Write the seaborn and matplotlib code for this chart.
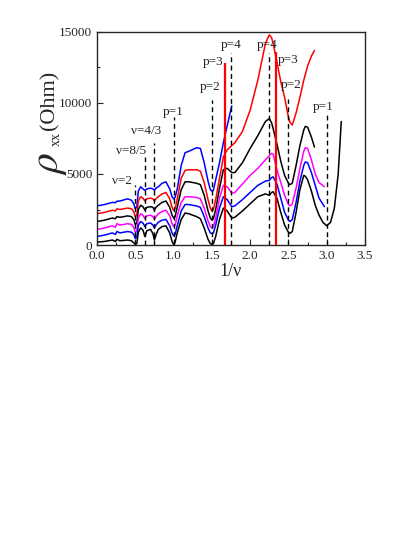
import matplotlib
matplotlib.use("Agg")
import matplotlib.pyplot as plt
import matplotlib.ticker as mticker
import seaborn as sns
import pandas as pd

# ---------------- data (values in Ohm) ----------------
x_left = [0, 0.1, 0.2, 0.24, 0.26, 0.3, 0.4, 0.45, 0.48, 0.5, 0.52, 0.54, 0.57, 0.6,
          0.625, 0.65, 0.7, 0.73, 0.75, 0.77, 0.8, 0.85, 0.9, 0.95, 0.98, 1.0, 1.02,
          1.05, 1.1, 1.15, 1.2, 1.3, 1.35, 1.4, 1.45, 1.48, 1.5, 1.52, 1.55, 1.6,
          1.65, 1.7, 1.76]
x_mid = [1.8, 1.9, 2.0, 2.1, 2.2, 2.25, 2.28, 2.3, 2.35, 2.4, 2.45, 2.5, 2.52, 2.55,
         2.6, 2.65, 2.7, 2.72, 2.75, 2.8]
x_end_short = [2.84]
x_end_med = [2.85, 2.9, 2.97]
x_end_long = [2.85, 2.9, 2.95, 3.0, 3.05, 3.1, 3.15, 3.19]

blue_top = [2750, 2850, 3000, 2980, 3080, 3100, 3250, 3150, 2900, 2550, 2700, 3800,
            4100, 3950, 3850, 3950, 4000, 3950, 3850, 4000, 4100, 4350, 4450, 3950,
            3400, 3250, 3350, 4000, 5600, 6500, 6600, 6850, 6800, 5800, 4500, 3900,
            3800, 3850, 4600, 5800, 7200, 8400, 9800]

red = [2200, 2300, 2450, 2400, 2550, 2500, 2600, 2550, 2350, 2000, 2100, 3100, 3400,
       3300, 3100, 3250, 3300, 3250, 3100, 3250, 3400, 3600, 3700, 3250, 2650, 2450,
       2550, 3300, 4700, 5250, 5300, 5300, 5200, 4400, 3200, 2600, 2400, 2500, 3200,
       4700, 6200, 6700, 7000,
       7200, 8000, 9500, 11600, 14200, 14800, 14600, 14200, 12900, 11500, 10400, 9000,
       8650, 8450, 9300, 10400, 11600, 12000, 12600, 13300,
       13700]

black_mid = [1650, 1750, 1900, 1850, 2000, 1950, 2050, 2000, 1800, 1450, 1550, 2500,
             2800, 2700, 2450, 2650, 2700, 2650, 2450, 2650, 2800, 3000, 3100, 2650,
             2100, 1900, 2000, 2700, 3900, 4450, 4450, 4350, 4250, 3500, 2400, 1900,
             1750, 1850, 2500, 4000, 5300, 5400, 5100,
             5100, 5800, 6800, 7700, 8700, 8900, 8600, 8200, 7100, 5900, 4900, 4350,
             4250, 4350, 5600, 7000, 8100, 8350, 8300, 7600,
             6900]

magenta = [1100, 1200, 1350, 1250, 1500, 1400, 1500, 1450, 1250, 900, 1000, 1900,
           2200, 2100, 1850, 2050, 2100, 2000, 1800, 2000, 2200, 2350, 2450, 2050,
           1500, 1300, 1400, 2100, 3000, 3400, 3400, 3350, 3250, 2600, 1700, 1300,
           1200, 1300, 1900, 3300, 4200, 4100, 3650,
           3700, 4300, 4900, 5400, 6000, 6300, 6450, 6400, 5300, 4400, 3500, 2850,
           2750, 2900, 4000, 5400, 6600, 6850, 6800, 6000,
           5000, 4400, 4100]

blue_low = [600, 700, 850, 750, 950, 850, 950, 900, 750, 450, 550, 1400, 1650, 1550,
            1300, 1500, 1550, 1400, 1200, 1400, 1600, 1750, 1800, 1350, 850, 650, 750,
            1400, 2400, 2850, 2850, 2750, 2650, 2000, 1200, 850, 800, 850, 1400, 2600,
            3400, 3200, 2700,
            2750, 3200, 3700, 4200, 4500, 4550, 4750, 4800, 4300, 3300, 2300, 1750,
            1650, 1800, 3000, 4500, 5600, 5850, 5800, 5100,
            4200, 3300, 2700]

black_low = [200, 250, 350, 250, 400, 300, 350, 300, 150, 50, 100, 900, 1200, 1050,
             600, 1000, 1100, 800, 350, 700, 1100, 1300, 1350, 850, 250, 50, 200, 900,
             1800, 2250, 2200, 2000, 1850, 1200, 400, 100, 50, 100, 600, 1800, 2600,
             2400, 1900,
             1950, 2400, 2900, 3400, 3600, 3500, 3700, 3750, 3300, 2300, 1400, 900,
             820, 950, 2300, 3900, 4900, 4850, 4600, 3800,
             2800, 2100, 1600, 1350, 1600, 2600, 5000, 8700]

# marker lines: position, top of line, labels and their positions
mark_x = [0.5, 0.625, 0.75, 1.0, 1.5, 1.75, 2.25, 2.5, 3.0]
mark_top = [4200, 6200, 7200, 9000, 10200, 13500, 13500, 10300, 9300]
red_x = [5 / 3, 7 / 3]
red_top = [12800, 13600]
labels = ["ν=2", "ν=8/5", "ν=4/3", "p=1", "p=2", "p=3", "p=4", "p=4", "p=3", "p=2", "p=1"]
label_x = [0.33, 0.44, 0.64, 1.0, 1.475, 1.51, 1.75, 2.22, 2.49, 2.53, 2.95]
label_y = [4500, 6600, 8000, 9400, 11100, 12900, 14100, 14100, 13000, 11300, 9700]

# ---------------- build table ----------------
curves = [
    ("c1", x_left, blue_top),
    ("c2", x_left + x_mid + x_end_short, red),
    ("c3", x_left + x_mid + x_end_short, black_mid),
    ("c4", x_left + x_mid + x_end_med, magenta),
    ("c5", x_left + x_mid + x_end_med, blue_low),
    ("c6", x_left + x_mid + x_end_long, black_low),
]
rows = []
for name, xs, ys in curves:
    assert len(xs) == len(ys), (name, len(xs), len(ys))
    for a, b in zip(xs, ys):
        rows.append({"x": a, "y": b, "curve": name})
df = pd.DataFrame(rows)
palette = {"c1": "#0000ff", "c2": "#ff0000", "c3": "#000000",
           "c4": "#ff00ff", "c5": "#0000ff", "c6": "#000000"}

# ---------------- style ----------------
sns.set_style("ticks")
plt.rcParams["font.family"] = ["Liberation Serif", "DejaVu Serif"]
plt.rcParams["mathtext.fontset"] = "stix"

fig = plt.figure(figsize=(4.15, 5.37), dpi=100)
ax = fig.add_axes([97 / 415, 1 - 245 / 537, (365 - 97) / 415, (245 - 32) / 537])

sns.lineplot(data=df, x="x", y="y", hue="curve", palette=palette, estimator=None,
             units="curve", linewidth=1.1, legend=False, ax=ax)

ax.vlines(mark_x, 0, mark_top, colors="black", linestyles=(0, (3.5, 2.5)), linewidth=1.0)
ax.vlines(red_x, 0, red_top, colors="#ff0000", linewidth=1.6)
for t, lx, ly in zip(labels, label_x, label_y):
    ax.text(lx, ly, t, ha="center", va="center", fontsize=9.5)

ax.set_xlim(0, 3.5)
ax.set_ylim(0, 15000)
ax.xaxis.set_major_locator(mticker.MultipleLocator(0.5))
ax.xaxis.set_minor_locator(mticker.MultipleLocator(0.25))
ax.yaxis.set_major_locator(mticker.MultipleLocator(5000))
ax.yaxis.set_minor_locator(mticker.MultipleLocator(2500))
ax.xaxis.set_major_formatter(mticker.FormatStrFormatter("%.1f"))
ax.yaxis.set_major_formatter(mticker.FormatStrFormatter("%d"))
ax.tick_params(which="both", direction="in", top=False, right=False, labelsize=9.5)
ax.tick_params(which="major", length=4, width=0.8)
ax.tick_params(which="minor", length=2.5, width=0.8)
for s in ax.spines.values():
    s.set_linewidth(1.0)
    s.set_visible(True)

ax.set_xlabel("1/ν", fontsize=13, labelpad=1)
ax.set_ylabel("")
fig.text(50 / 415, 1 - 163 / 537, r"$\rho$", rotation=90, fontsize=30,
         ha="center", va="center")
fig.text(56 / 415, 1 - 139 / 537, "xx", rotation=90, fontsize=10,
         ha="center", va="center")
fig.text(50 / 415, 1 - 100 / 537, "(Ohm)", rotation=90, fontsize=16,
         ha="center", va="center")

fig.savefig("out.png", dpi=100)
